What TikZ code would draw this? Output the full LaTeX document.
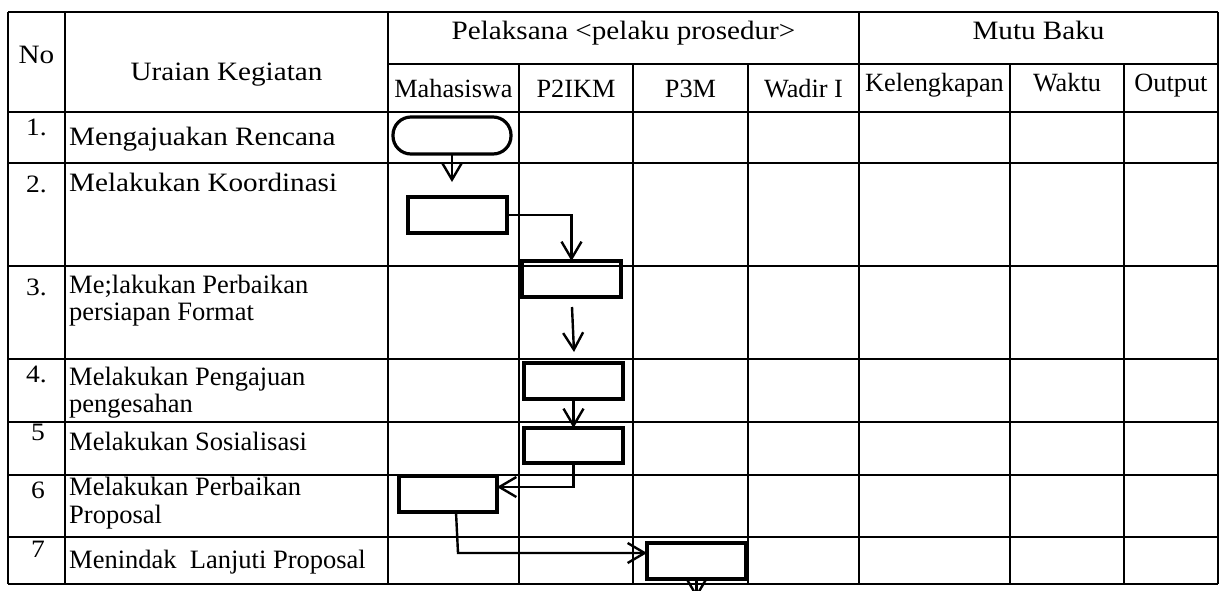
\documentclass[tikz,border=0pt]{standalone}
\usepackage{fontspec}
\setmainfont{Liberation Serif}
\newfontfamily\widefont{Liberation Serif}[FakeStretch=1.1]
\usetikzlibrary{arrows.meta}
\newcommand\hbig{\widefont\fontsize{26.5}{30}\selectfont}
\newcommand\hsub{\fontsize{26.3}{30}\selectfont}
\newcommand\rowbig{\widefont\fontsize{26.5}{30}\selectfont}
\newcommand\rowtxt{\fontsize{26.5}{30}\selectfont}
\newcommand\numtxt{\widefont\fontsize{25}{28}\selectfont}
\tikzset{
  gridline/.style={line width=1.4pt},
  flowbox/.style={draw, line width=3.2pt, minimum width=99pt, minimum height=36pt, inner sep=0pt, outer sep=0pt},
  term/.style={flowbox, minimum width=118pt, minimum height=37pt, rounded corners=18pt},
  conn/.style={line width=2.4pt},
  arr/.style={conn, -{Straight Barb[length=17pt,width=20pt]}},
  lbl/.style={inner sep=0pt, anchor=base},
  rowlbl/.style={inner sep=0pt, anchor=base west},
}
\begin{document}
\begin{tikzpicture}[x=1pt,y=-1pt]
\useasboundingbox (0,0) rectangle (1219,590);
\clip (0,0) rectangle (1219,590);
% table grid
\foreach \yy in {12,112,163,266,359,422,475,537,584}
  \draw[gridline] (8,\yy) -- (1218,\yy);
\draw[gridline] (388,64) -- (1218,64);
\foreach \xx in {8,65,388,859,1218}
  \draw[gridline] (\xx,12) -- (\xx,584);
\foreach \xx in {519,633,748,1010,1124}
  \draw[gridline] (\xx,64) -- (\xx,584);
% header texts
\node[lbl, font=\hbig] (hno) at (36.5,63) {No};
\node[lbl, font=\hbig] (hur) at (226.5,80) {Uraian Kegiatan};
\node[lbl, font=\hbig] (hpel) at (623.5,39) {Pelaksana <pelaku prosedur>};
\node[lbl, font=\hbig] (hmutu) at (1038.5,39) {Mutu Baku};
\node[lbl, font=\hsub] (hmhs) at (453.5,97) {Mahasiswa};
\node[lbl, font=\hsub] (hp2) at (576,97) {P2IKM};
\node[lbl, font=\hsub] (hp3) at (690.5,97) {P3M};
\node[lbl, font=\hsub] (hwd) at (803.5,97) {Wadir I};
\node[lbl, font=\hsub] (hkel) at (934.5,91) {Kelengkapan};
\node[lbl, font=\hsub] (hwk) at (1067,91) {Waktu};
\node[lbl, font=\hsub] (hout) at (1171,91) {Output};
% numbers
\node[lbl, font=\numtxt] (n1) at (36.5,135) {1.};
\node[lbl, font=\numtxt] (n2) at (36.5,192) {2.};
\node[lbl, font=\numtxt] (n3) at (36.5,295) {3.};
\node[lbl, font=\numtxt] (n4) at (36.5,382) {4.};
\node[lbl, font=\numtxt] (n5) at (38,440) {5};
\node[lbl, font=\numtxt] (n6) at (38,498) {6};
\node[lbl, font=\numtxt] (n7) at (38,557) {7};
% activity texts
\node[rowlbl, font=\rowbig] (r1) at (69,145) {Mengajuakan Rencana};
\node[rowlbl, font=\rowbig] (r2) at (69,191) {Melakukan Koordinasi};
\node[rowlbl, font=\rowtxt] (r3a) at (69,293) {Me;lakukan Perbaikan};
\node[rowlbl, font=\rowtxt] (r3b) at (69,320) {persiapan Format};
\node[rowlbl, font=\rowtxt] (r4a) at (69,385) {Melakukan Pengajuan};
\node[rowlbl, font=\rowtxt] (r4b) at (69,412) {pengesahan};
\node[rowlbl, font=\rowtxt] (r5) at (69,450) {Melakukan Sosialisasi};
\node[rowlbl, font=\rowtxt] (r6a) at (69,495) {Melakukan Perbaikan};
\node[rowlbl, font=\rowtxt] (r6b) at (69,523) {Proposal};
\node[rowlbl, font=\rowtxt] (r7) at (69,568) {Menindak\ \ Lanjuti Proposal};
% flow shapes
\node[term] (t1) at (452,135.5) {};
\node[flowbox] (b2) at (457.5,215) {};
\node[flowbox] (b3) at (571.5,279) {};
\node[flowbox] (b4) at (573.5,381) {};
\node[flowbox, minimum height=35pt] (b5) at (573.5,445.5) {};
\node[flowbox, minimum width=98pt] (b6) at (448,494) {};
\node[flowbox] (b7) at (696.5,561) {};
% connectors
\coordinate (c1) at (452,182);
\draw[arr] (t1.south) -- (c1);
\draw[arr] (b2.east) -| (b3.north);
\coordinate (c3a) at (572,307);
\coordinate (c3b) at (574,352);
\draw[arr] (c3a) -- (c3b);
\draw[arr] (b4.south) -- (b5.north);
\coordinate (c5) at (573.5,487);
\draw[arr] (b5.south) -- (c5) -- (c5 -| b6.east);
\coordinate (c6a) at (456,512);
\coordinate (c6b) at (458,553);
\draw[arr] (b6.south -| c6a) -- (c6b) -- (c6b -| b7.west);
\coordinate (c7) at (696.5,598);
\draw[arr] (b7.south) -- (c7);
\end{tikzpicture}
\end{document}
